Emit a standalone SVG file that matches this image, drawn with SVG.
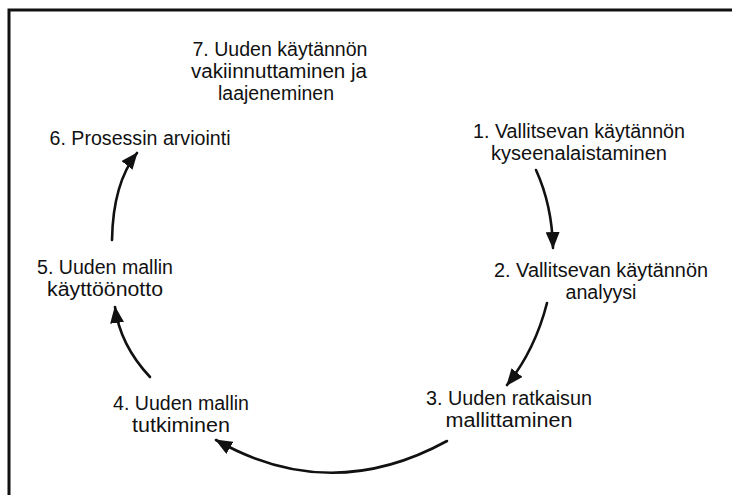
<svg xmlns="http://www.w3.org/2000/svg" width="732" height="495" viewBox="0 0 732 495">
  <style>
    .lbl { font-family: "Liberation Sans", Arial, sans-serif; font-size: 20px; fill: #111; text-anchor: middle; }
    .arc { fill: none; stroke: #111; stroke-width: 2.6; stroke-linecap: round; }
    .frame { fill: none; stroke: #111; stroke-width: 3; }
  </style>
  <defs>
    <marker id="head" markerUnits="userSpaceOnUse" markerWidth="18" markerHeight="14" viewBox="0 0 18 14" refX="16" refY="7" orient="auto">
      <path d="M0,0 L17,7 L0,14 Z" fill="#111"/>
    </marker>
  </defs>
  <rect width="732" height="495" fill="#fff"/>
  <!-- open frame: top and left edges only -->
  <path class="frame" d="M9,495 L9,10 L732,10"/>

  <g id="connectors">
    <path class="arc" d="M536,170 Q552,205 553,248" marker-end="url(#head)"/>
    <path class="arc" d="M547,303 Q535,350 507,385" marker-end="url(#head)"/>
    <path class="arc" d="M447,441 Q330,505 216,440" marker-end="url(#head)"/>
    <path class="arc" d="M150,377 Q120,345 115,307" marker-end="url(#head)"/>
    <path class="arc" d="M112,240 Q113,183 137,153" marker-end="url(#head)"/>
  </g>

  <g id="step1">
    <text class="lbl" x="579" y="138" textLength="212" lengthAdjust="spacingAndGlyphs">1. Vallitsevan käytännön</text>
    <text class="lbl" x="579" y="160" textLength="176" lengthAdjust="spacingAndGlyphs">kyseenalaistaminen</text>
  </g>
  <g id="step2">
    <text class="lbl" x="601" y="277" textLength="214" lengthAdjust="spacingAndGlyphs">2. Vallitsevan käytännön</text>
    <text class="lbl" x="601" y="299" textLength="71" lengthAdjust="spacingAndGlyphs">analyysi</text>
  </g>
  <g id="step3">
    <text class="lbl" x="509" y="405" textLength="166" lengthAdjust="spacingAndGlyphs">3. Uuden ratkaisun</text>
    <text class="lbl" x="509" y="427" textLength="127" lengthAdjust="spacingAndGlyphs">mallittaminen</text>
  </g>
  <g id="step4">
    <text class="lbl" x="181" y="410" textLength="136" lengthAdjust="spacingAndGlyphs">4. Uuden mallin</text>
    <text class="lbl" x="181" y="432" textLength="98" lengthAdjust="spacingAndGlyphs">tutkiminen</text>
  </g>
  <g id="step5">
    <text class="lbl" x="105" y="274" textLength="136" lengthAdjust="spacingAndGlyphs">5. Uuden mallin</text>
    <text class="lbl" x="105" y="296" textLength="116" lengthAdjust="spacingAndGlyphs">käyttöönotto</text>
  </g>
  <g id="step6">
    <text class="lbl" x="140" y="145" textLength="181" lengthAdjust="spacingAndGlyphs">6. Prosessin arviointi</text>
  </g>
  <g id="step7">
    <text class="lbl" x="280" y="56" textLength="175" lengthAdjust="spacingAndGlyphs">7. Uuden käytännön</text>
    <text class="lbl" x="279" y="78" textLength="176" lengthAdjust="spacingAndGlyphs">vakiinnuttaminen ja</text>
    <text class="lbl" x="276" y="100" textLength="116" lengthAdjust="spacingAndGlyphs">laajeneminen</text>
  </g>
</svg>
